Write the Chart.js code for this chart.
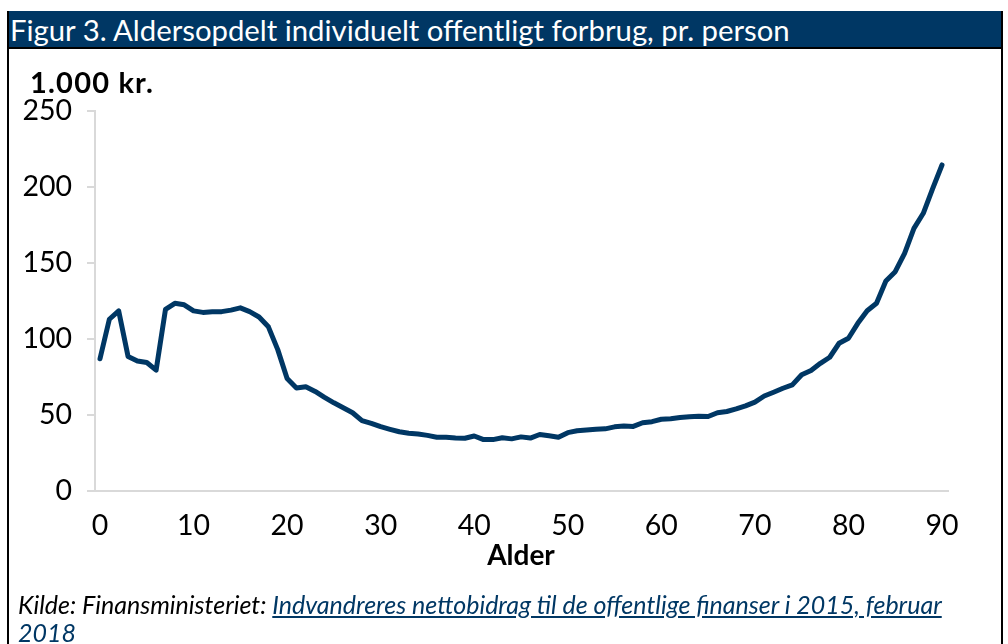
<!DOCTYPE html>
<html><head><meta charset="utf-8">
<script src="https://cdn.jsdelivr.net/npm/chart.js@4.4.1/dist/chart.umd.min.js"></script>
<style>
html,body{margin:0;padding:0;}
body{width:1008px;height:644px;background:#fff;position:relative;overflow:hidden;font-family:Lato,"Noto Sans",sans-serif;}
.abs{position:absolute;white-space:nowrap;}
#lb{left:7px;top:11px;width:2px;height:640px;background:#000;}
#rb{left:1001px;top:11px;width:2px;height:640px;background:#000;}
#bar{left:7px;top:11px;width:996px;height:36px;background:#003764;border-bottom:2px solid #000;}
#title{left:10px;top:11px;height:36px;line-height:38px;color:#fff;font-size:29.3px;}
#unit{left:30px;top:63px;font-size:29px;letter-spacing:1.2px;font-weight:bold;color:#000;line-height:38px;}
#alder{left:0;width:1042px;text-align:center;top:536px;font-size:28px;font-weight:bold;line-height:36px;color:#000;}
#src{left:18px;top:590px;width:950px;font-size:25px;font-style:italic;line-height:28px;color:#000;white-space:normal;}
#src a{color:#003764;text-decoration:underline;}
#c{position:absolute;left:0;top:0;}
</style></head>
<body>
<canvas id="c" width="1008" height="644"></canvas>
<div class="abs" id="bar"></div>
<div class="abs" id="lb"></div>
<div class="abs" id="rb"></div>
<div class="abs" id="title">Figur 3. Aldersopdelt individuelt offentligt forbrug, pr. person</div>
<div class="abs" id="unit">1.000 kr.</div>
<div class="abs" id="alder">Alder</div>
<div class="abs" id="src">Kilde: Finansministeriet: <a>Indvandreres nettobidrag til de offentlige finanser i 2015, februar 2018</a></div>
<script>
const ages = [0,1,2,3,4,5,6,7,8,9,10,11,12,13,14,15,16,17,18,19,20,21,22,23,24,25,26,27,28,29,30,31,32,33,34,35,36,37,38,39,40,41,42,43,44,45,46,47,48,49,50,51,52,53,54,55,56,57,58,59,60,61,62,63,64,65,66,67,68,69,70,71,72,73,74,75,76,77,78,79,80,81,82,83,84,85,86,87,88,89,90];
const consumption = [87,113,118.5,88.5,85.5,84.5,79.5,119.5,123.5,122.5,118.5,117.5,118,118,119,120.5,118,114.5,108,93,74,67.8,68.6,65.5,61.6,58,54.8,51.5,46.3,44.5,42.3,40.6,39,38,37.5,36.6,35.4,35.3,34.8,34.7,36.2,33.8,33.8,35,34.3,35.6,34.8,37.2,36.3,35.4,38.4,39.6,40.1,40.6,40.9,42.2,42.8,42.5,44.9,45.6,47.2,47.6,48.3,48.8,49.2,49,51.5,52.3,54,56,58.5,62.5,65,67.6,69.8,76.5,79.3,84,88,97.2,100.5,110.3,118.6,123.5,138.2,144.3,156.4,172.8,182.7,199,214.5];
const xTicks = [0,10,20,30,40,50,60,70,80,90];
const yTicks = [0,50,100,150,200,250];

const axisGrey = '#d9d9d9';
const navy = '#003764';
new Chart(document.getElementById('c'), {
  type: 'line',
  data: { datasets: [{
    data: ages.map((a,i)=>({x:a, y:consumption[i]})),
    borderColor: navy, borderWidth: 5, pointRadius: 0,
    borderJoinStyle: 'round', borderCapStyle: 'round', tension: 0, fill: false
  }]},
  options: {
    responsive: false, animation: false, devicePixelRatio: 1,
    layout: { padding: { left: 0, top: 111, right: 60, bottom: 0 } },
    plugins: { legend: { display: false }, tooltip: { enabled: false } },
    scales: {
      x: {
        type: 'linear', min: -0.534, max: 90.641,
        afterBuildTicks: s => { s.ticks = xTicks.map(v => ({ value: v })); },
        afterFit: s => { s.height = 153; },
        grid: { display: true, drawOnChartArea: false, drawTicks: false },
        border: { display: true, color: axisGrey, width: 2 },
        ticks: { color: '#000', font: { family: 'Lato', size: 28.5 }, padding: 18, maxRotation: 0, autoSkip: false }
      },
      y: {
        min: 0, max: 250,
        afterBuildTicks: s => { s.ticks = yTicks.map(v => ({ value: v })); },
        afterFit: s => { s.width = 95; },
        grid: { display: true, drawOnChartArea: false, drawTicks: true, tickLength: 8, color: axisGrey, lineWidth: 2 },
        border: { display: true, color: axisGrey, width: 2 },
        ticks: { color: '#000', font: { family: 'Lato', size: 28.5 }, padding: 15 }
      }
    }
  }
});
</script>
</body></html>
